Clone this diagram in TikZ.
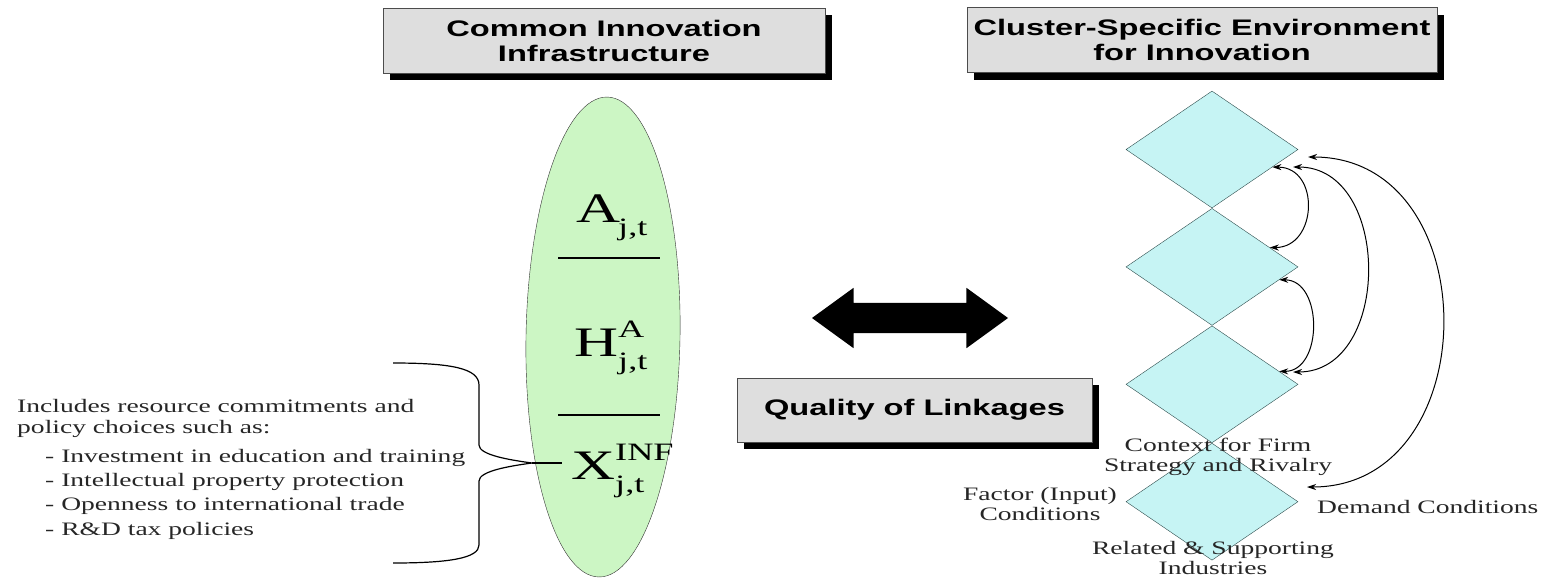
\documentclass[tikz,border=0pt]{standalone}
\usepackage{fontspec}
\setmainfont[FakeStretch=1.45]{Liberation Serif}
\setsansfont[FakeStretch=1.45]{Liberation Sans}
\usepackage{tikz}
\usetikzlibrary{positioning,shapes.geometric,shapes.arrows,shadows,arrows.meta,calc}

\definecolor{boxgray}{RGB}{222,222,222}
\definecolor{ellgreen}{RGB}{204,246,196}
\definecolor{diacyan}{RGB}{198,244,244}
\definecolor{dialine}{RGB}{45,75,75}
\newcommand{\subsz}{\fontsize{25}{25}\selectfont}

\begin{document}
\begin{tikzpicture}[x=1pt,y=-1pt]
        \tikzset{titlebox/.style={draw=black!70, fill=boxgray, align=center, inner sep=0pt,
            font=\sffamily\bfseries\fontsize{22.5}{25}\selectfont,
            drop shadow={shadow xshift=7pt, shadow yshift=-7pt, fill=black, opacity=1}}}
        \tikzset{diam/.style={diamond, draw=dialine, fill=diacyan, minimum width=172, minimum height=117, inner sep=0pt}}
        \tikzset{lab/.style={font=\fontsize{19}{20}\selectfont, align=center, inner sep=0pt, text=black!85}}
        \tikzset{sym/.style={font=\fontsize{42}{42}\selectfont, anchor=base west, inner sep=0pt}}
        \tikzset{pairarrow/.style={{Stealth[length=9pt,width=6pt]}-{Stealth[length=9pt,width=6pt]}, line width=1pt}}

        \useasboundingbox (0,0) rectangle (1544,579);

        \node[titlebox, minimum width=442, minimum height=65] (common) at (604,40.5) {Common Innovation\\Infrastructure};
        \node[titlebox, minimum width=470, minimum height=65] (cluster) at (1202,40) {Cluster-Specific Environment\\for Innovation};

        \node[ellipse, draw=black!80, fill=ellgreen, minimum width=154, minimum height=480, rotate=-1, inner sep=0pt] (inf) at (603,337) {};
        \node[sym] (a) at (576,222) {A\kern-2pt\raisebox{-13pt}{\subsz j,t}};
        \node[sym] (h) at (574,356) {H\rlap{\raisebox{19pt}{\subsz A}}\raisebox{-13pt}{\subsz j,t}};
        \node[sym] (x) at (571,479) {X\rlap{\raisebox{19pt}{\subsz INF}}\raisebox{-13pt}{\subsz j,t}};
        \draw[line width=1.3pt] (558,258) -- (660,258);
        \draw[line width=1.3pt] (558,415) -- (660,415);

        \node[lab, align=left, anchor=north west, font=\fontsize{19}{21.5}\selectfont] (incl) at (17,399) {Includes resource commitments and\\policy choices such as:};
        \node[lab, align=left, anchor=north west, font=\fontsize{19}{24.3}\selectfont] (items) at (45,449) {- Investment in education and training\\- Intellectual property protection\\- Openness to international trade\\- R\&D tax policies};

        \coordinate (tip) at (532,463);
        \draw[line width=1.2pt] (393,363) .. controls (450,363) and (479,368) .. (479,385) -- (479,445)
            .. controls (479,455) and (510,460) .. (tip) .. controls (510,466) and (479,471) .. (479,481)
            -- (479,545) .. controls (479,558) and (450,563) .. (393,563);
        \draw[line width=1.2pt, shorten >=9pt] (tip) -- (tip -| x.west);

        \node[double arrow, fill=black, minimum height=196, minimum width=60, inner xsep=0pt, inner ysep=15pt,
            double arrow head extend=15pt, double arrow tip angle=72] (link) at (910,318) {};
        \node[titlebox, minimum width=355, minimum height=64] (qual) at (914.5,410) {Quality of Linkages};

        \node[diam] (d1) at (1212,149.5) {};
        \node[diam, below=0pt of d1] (d2) {};
        \node[diam, below=0pt of d2] (d3) {};
        \node[diam, below=0pt of d3] (d4) {};

        \coordinate (c1a) at ($(d1.east)!.3!(d1.south)$);
        \coordinate (c1b) at ($(d2.north)!.67!(d2.east)$);
        \coordinate (c2a) at ($(d2.east)!.22!(d2.south)$);
        \coordinate (c2b) at ($(d3.north)!.78!(d3.east)$);
        \coordinate (c3a) at (1293,167);
        \coordinate (c3b) at (1293,372);
        \coordinate (c4a) at (1308,157);
        \coordinate (c4b) at (1307,487);
        \draw[pairarrow] (c1a) .. controls +(48,0) and +(48,0) .. (c1b);
        \draw[pairarrow] (c2a) .. controls +(44,0) and +(44,0) .. (c2b);
        \draw[pairarrow] (c3a) .. controls +(99,0) and +(99,0) .. (c3b);
        \draw[pairarrow] (c4a) .. controls +(180,0) and +(180,0) .. (c4b);

        \node[lab] (ctx) at (1218,457) {Context for Firm\\Strategy and Rivalry};
        \node[lab] (factor) at (1040,504) {Factor (Input)\\Conditions};
        \node[lab, anchor=west] (demand) at (1317,507) {Demand Conditions};
        \node[lab] (related) at (1213,558) {Related \& Supporting\\Industries};
      \end{tikzpicture}
\end{document}
